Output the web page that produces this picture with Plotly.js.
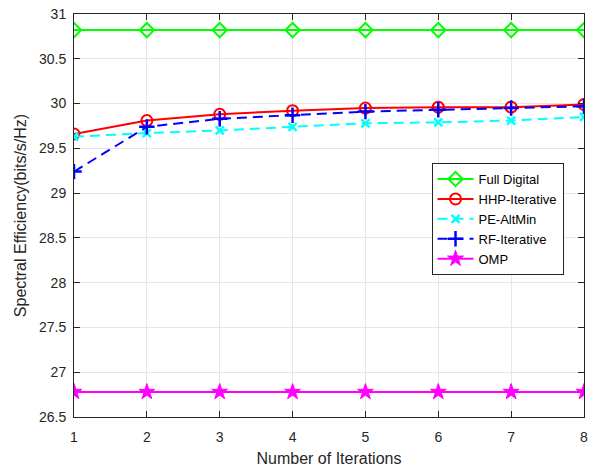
<!DOCTYPE html>
<html>
<head>
<meta charset="utf-8">
<script src="https://cdn.plot.ly/plotly-3.0.1.min.js"></script>
<style>html,body{margin:0;padding:0;background:#fff;}#chart{width:591px;height:470px;}</style>
</head>
<body>
<div id="chart"></div>
<script>
const iterations = [1, 2, 3, 4, 5, 6, 7, 8];
const fullDigital = [30.82, 30.82, 30.82, 30.82, 30.82, 30.82, 30.82, 30.82];
const hhpIterative = [29.66, 29.81, 29.88, 29.92, 29.95, 29.96, 29.96, 29.99];
const peAltMin = [29.63, 29.67, 29.70, 29.74, 29.78, 29.79, 29.81, 29.85];
const rfIterative = [29.24, 29.74, 29.83, 29.87, 29.91, 29.93, 29.95, 29.97];
const omp = [26.78, 26.78, 26.78, 26.78, 26.78, 26.78, 26.78, 26.78];
const yTicks = [26.5, 27, 27.5, 28, 28.5, 29, 29.5, 30, 30.5, 31];

const traces = [
  {x: iterations, y: fullDigital, name: 'Full Digital', mode: 'lines+markers',
   line: {color: '#00ff00', width: 2},
   marker: {symbol: 'diamond-open', size: 11, color: '#00ff00', line: {width: 2}}},
  {x: iterations, y: hhpIterative, name: 'HHP-Iterative', mode: 'lines+markers',
   line: {color: '#ff0000', width: 2},
   marker: {symbol: 'circle-open', size: 11, color: '#ff0000', line: {width: 2}}},
  {x: iterations, y: peAltMin, name: 'PE-AltMin', mode: 'lines+markers',
   line: {color: '#00ffff', width: 2, dash: '10px,6px'},
   marker: {symbol: 'x-thin-open', size: 8, color: '#00ffff', line: {width: 2.5}}},
  {x: iterations, y: rfIterative, name: 'RF-Iterative', mode: 'lines+markers',
   line: {color: '#0000ff', width: 2, dash: '10px,6px'},
   marker: {symbol: 'cross-thin-open', size: 11, color: '#0000ff', line: {width: 2.5}}},
  {x: iterations, y: omp, name: 'OMP', mode: 'lines+markers',
   line: {color: '#ff00ff', width: 2},
   marker: {symbol: 'star', size: 12, color: '#ff00ff', line: {width: 1, color: '#ff00ff'}}}
];

const axisCommon = {
  showline: true, mirror: 'ticks', linecolor: '#262626', linewidth: 1,
  ticks: 'inside', ticklen: 6, tickcolor: '#262626',
  showgrid: true, gridcolor: '#e6e6e6', gridwidth: 1, zeroline: false,
  tickfont: {family: 'Liberation Sans, Arial, sans-serif', size: 14, color: '#262626'}
};

const layout = {
  width: 591, height: 470,
  margin: {l: 74, r: 7, t: 14, b: 53},
  paper_bgcolor: '#ffffff', plot_bgcolor: '#ffffff',
  showlegend: true,
  xaxis: Object.assign({}, axisCommon, {
    range: [1, 8], tickvals: iterations, ticktext: iterations.map(String),
    ticklabelstandoff: 7,
    title: {text: 'Number of Iterations', standoff: 9,
            font: {family: 'Liberation Sans, Arial, sans-serif', size: 16, color: '#262626'}}
  }),
  yaxis: Object.assign({}, axisCommon, {
    range: [26.5, 31], tickvals: yTicks, ticktext: yTicks.map(String),
    ticklabelstandoff: 4,
    title: {text: 'Spectral Efficiency(bits/s/Hz)', standoff: 8,
            font: {family: 'Liberation Sans, Arial, sans-serif', size: 16, color: '#262626'}}
  }),
  legend: {
    x: 0.701, y: 0.63, xanchor: 'left', yanchor: 'top',
    bgcolor: '#ffffff', bordercolor: '#262626', borderwidth: 1,
    font: {family: 'Liberation Sans, Arial, sans-serif', size: 13, color: '#000000'},
    tracegroupgap: 0, itemwidth: 36
  }
};

Plotly.newPlot('chart', traces, layout, {displayModeBar: false, staticPlot: true});
</script>
</body>
</html>
